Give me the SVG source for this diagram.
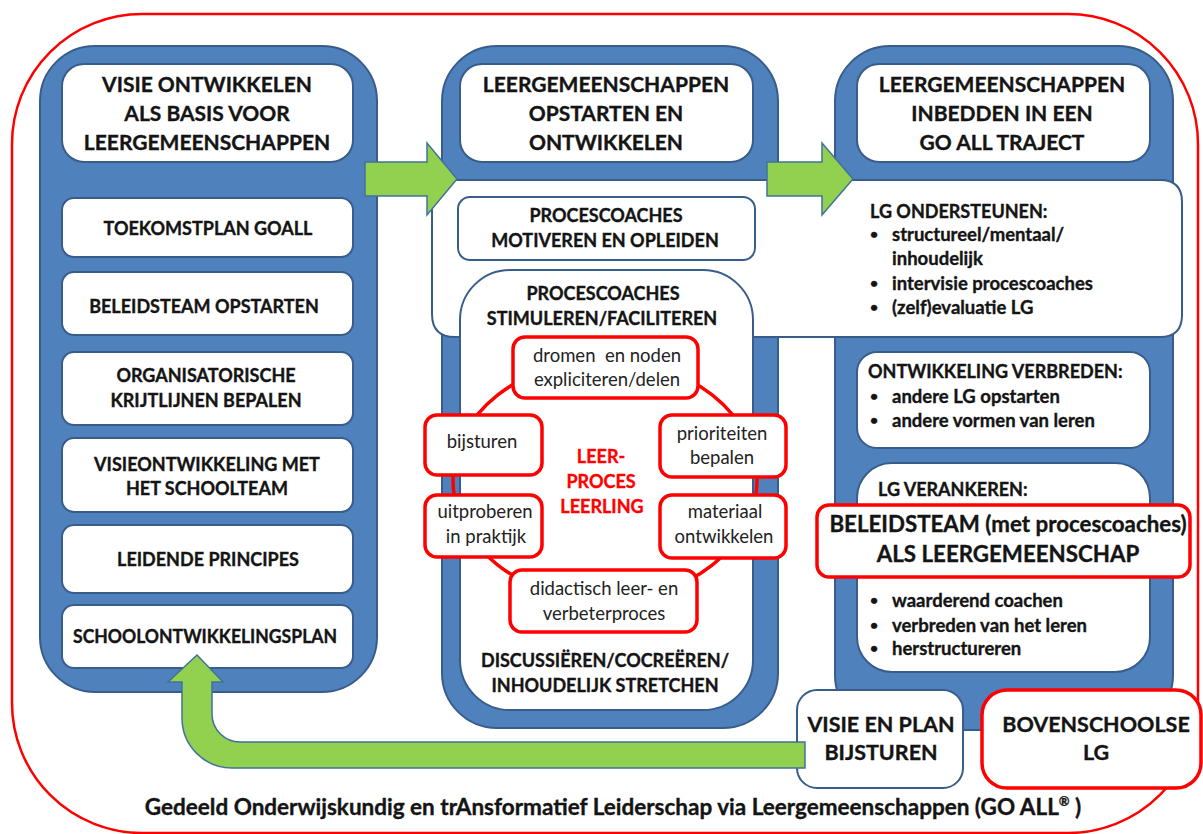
<svg xmlns="http://www.w3.org/2000/svg" width="1203" height="834" viewBox="0 0 1203 834">
<defs>
<style>
.blue{fill:#4f81bd;stroke:#385d8a;stroke-width:2}
.wbox{fill:#fff;stroke:#385d8a;stroke-width:2}
.rbox{fill:#fff;stroke:#ff0000;stroke-width:3.5}
.arrow{fill:#92d050;stroke:#41719c;stroke-width:1.5}
text{font-family:Lato,"Open Sans","Liberation Sans",sans-serif;fill:#141414}
.h,.i,.t,.big,.foot{font-weight:700;stroke:#141414;stroke-width:0.35}
.h{font-size:21px;text-anchor:middle}
.i{font-size:18px;text-anchor:middle}
.t{font-size:18px}
.b{font-size:18.5px}
.dot{font-size:14px}
.r{font-weight:400;font-size:18.5px;text-anchor:middle;fill:#222}
.red{font-weight:700;font-size:18px;text-anchor:middle;fill:#ff0000;stroke:#ff0000;stroke-width:0.35}
.big{font-size:21.5px;text-anchor:middle}
.big2{font-size:22.3px}
.foot{font-size:22.5px;text-anchor:middle}
</style>
</defs>
<rect width="1203" height="834" fill="#fff"/>
<g id="frame"><rect x="12" y="14" width="1186" height="819" rx="130" fill="none" stroke="#ff0000" stroke-width="2.5"/></g>

<g id="col-visie">
<rect class="blue" x="40" y="46" width="337" height="646" rx="55"/>
<rect class="wbox" x="62" y="64" width="291" height="98" rx="22"/>
<text class="h" x="207" y="92">VISIE ONTWIKKELEN</text>
<text class="h" x="207" y="121">ALS BASIS VOOR</text>
<text class="h" x="207" y="150">LEERGEMEENSCHAPPEN</text>
</g>
<g id="toekomstplan"><rect class="wbox" x="62" y="198" width="291" height="59" rx="12"/><text class="i" x="208" y="235">TOEKOMSTPLAN GOALL</text></g>
<g id="beleidsteam-opstarten"><rect class="wbox" x="62" y="272" width="291" height="63" rx="12"/><text class="i" x="204" y="313">BELEIDSTEAM OPSTARTEN</text></g>
<g id="krijtlijnen"><rect class="wbox" x="62" y="352" width="291" height="73" rx="12"/><text class="i" x="206" y="382">ORGANISATORISCHE</text><text class="i" x="206" y="407">KRIJTLIJNEN BEPALEN</text></g>
<g id="visieontwikkeling"><rect class="wbox" x="62" y="438" width="291" height="74" rx="12"/><text class="i" x="207" y="471">VISIEONTWIKKELING MET</text><text class="i" x="207" y="495">HET SCHOOLTEAM</text></g>
<g id="leidende-principes"><rect class="wbox" x="62" y="525" width="291" height="68" rx="12"/><text class="i" x="208" y="566">LEIDENDE PRINCIPES</text></g>
<g id="schoolontwikkelingsplan"><rect class="wbox" x="62" y="605" width="291" height="63" rx="12"/><text class="i" x="205" y="643" textLength="264" lengthAdjust="spacingAndGlyphs">SCHOOLONTWIKKELINGSPLAN</text></g>

<g id="col-opstarten">
<rect class="blue" x="442" y="46" width="336" height="682" rx="55"/>
<rect class="wbox" x="460" y="64" width="293" height="98" rx="22"/>
<text class="h" x="606" y="92">LEERGEMEENSCHAPPEN</text>
<text class="h" x="606" y="121">OPSTARTEN EN</text>
<text class="h" x="606" y="150">ONTWIKKELEN</text>
</g>

<g id="col-inbedden">
<rect class="blue" x="835" y="46" width="338" height="684" rx="55"/>
<rect class="wbox" x="857" y="64" width="293" height="98" rx="22"/>
<text class="h" x="1002" y="92">LEERGEMEENSCHAPPEN</text>
<text class="h" x="1002" y="121">INBEDDEN IN EEN</text>
<text class="h" x="1002" y="150">GO ALL TRAJECT</text>
</g>

<g id="lg-ondersteunen">
<path class="wbox" d="M432,180 H1160 Q1182,180 1182,202 V315 Q1182,337 1160,337 H455 Q432,337 432,314 Z"/>
<text class="t" x="870" y="218">LG ONDERSTEUNEN:</text>
<text class="t dot" x="870" y="239">•</text><text class="t b" x="892" y="241">structureel/mentaal/</text>
<text class="t b" x="892" y="265">inhoudelijk</text>
<text class="t dot" x="870" y="288">•</text><text class="t b" x="892" y="290">intervisie procescoaches</text>
<text class="t dot" x="870" y="312">•</text><text class="t b" x="892" y="314">(zelf)evaluatie LG</text>
</g>

<g id="motiveren"><rect class="wbox" x="458" y="197" width="297" height="63" rx="12"/><text class="i" x="606" y="222">PROCESCOACHES</text><text class="i" x="605" y="247">MOTIVEREN EN OPLEIDEN</text></g>

<g id="stimuleren">
<rect class="wbox" x="460" y="270" width="293" height="440" rx="50"/>
<text class="i" x="603" y="300">PROCESCOACHES</text>
<text class="i" x="602" y="325">STIMULEREN/FACILITEREN</text>
<text class="i" x="605" y="667">DISCUSSIËREN/COCREËREN/</text>
<text class="i" x="605" y="692">INHOUDELIJK STRETCHEN</text>
</g>

<g id="connectors">
<ellipse id="cycle-ring" cx="605" cy="480" rx="152" ry="120" fill="none" stroke="#ff0000" stroke-width="3.5"/>
</g>

<g id="leerproces"><text class="red" x="601" y="463">LEER-</text><text class="red" x="601" y="488">PROCES</text><text class="red" x="602" y="513">LEERLING</text></g>
<g id="dromen"><rect class="rbox" x="513" y="337" width="185" height="61" rx="12"/><text class="r" x="607" y="362">dromen&#160; en noden</text><text class="r" x="607" y="386">expliciteren/delen</text></g>
<g id="bijsturen"><rect class="rbox" x="425" y="415" width="117" height="60" rx="12"/><text class="r" x="482" y="448">bijsturen</text></g>
<g id="prioriteiten"><rect class="rbox" x="660" y="415" width="126" height="62" rx="12"/><text class="r" x="722" y="440">prioriteiten</text><text class="r" x="722" y="464">bepalen</text></g>
<g id="uitproberen"><rect class="rbox" x="425" y="495" width="117" height="62" rx="12"/><text class="r" x="485" y="518">uitproberen</text><text class="r" x="486" y="543">in praktijk</text></g>
<g id="materiaal"><rect class="rbox" x="660" y="495" width="126" height="63" rx="12"/><text class="r" x="725" y="518">materiaal</text><text class="r" x="724" y="543">ontwikkelen</text></g>
<g id="didactisch"><rect class="rbox" x="510" y="570" width="187" height="62" rx="12"/><text class="r" x="604" y="595">didactisch leer- en</text><text class="r" x="604" y="620">verbeterproces</text></g>

<g id="ontwikkeling-verbreden">
<rect class="wbox" x="857" y="352" width="293" height="96" rx="20"/>
<text class="t" x="868" y="378">ONTWIKKELING VERBREDEN:</text>
<text class="t dot" x="870" y="401">•</text><text class="t b" x="892" y="403">andere LG opstarten</text>
<text class="t dot" x="870" y="425">•</text><text class="t b" x="892" y="427">andere vormen van leren</text>
</g>

<g id="lg-verankeren">
<rect class="wbox" x="857" y="463" width="293" height="209" rx="35"/>
<text class="t" x="878" y="496">LG VERANKEREN:</text>
<text class="t dot" x="870" y="605">•</text><text class="t b" x="892" y="607">waarderend coachen</text>
<text class="t dot" x="870" y="630">•</text><text class="t b" x="892" y="632">verbreden van het leren</text>
<text class="t dot" x="870" y="653">•</text><text class="t b" x="892" y="655">herstructureren</text>
</g>
<g id="beleidsteam-lg"><rect class="rbox" x="817" y="505" width="373" height="72" rx="12"/><text class="big big2" x="1008" y="532">BELEIDSTEAM (met procescoaches)</text><text class="big big2" x="1008" y="562">ALS LEERGEMEENSCHAP</text></g>

<g id="visie-bijsturen"><rect class="wbox" x="797" y="690" width="166" height="98" rx="20"/><text class="big" x="881" y="732">VISIE EN PLAN</text><text class="big" x="881" y="760">BIJSTUREN</text></g>
<g id="bovenschoolse"><rect class="rbox" x="982" y="690" width="219" height="98" rx="25"/><text class="big" x="1096" y="732">BOVENSCHOOLSE</text><text class="big" x="1096" y="760">LG</text></g>

<g id="arrows">
<path class="arrow" d="M365,162 H427 V143 L457,179 L427,215 V196 H365 Z"/>
<path class="arrow" d="M767,162 H822 V143 L853,179 L822,215 V196 H767 Z"/>
<path class="arrow" d="M805,742 H240 A28,28 0 0 1 212,714 V682 H223 L197,655 L168,682 H182 V718 A50,50 0 0 0 232,768 H805 Z"/>
</g>

<g id="footer"><text class="foot" x="613" y="815">Gedeeld Onderwijskundig en trAnsformatief Leiderschap via Leergemeenschappen (GO ALL<tspan font-size="13" dy="-9">®</tspan><tspan dy="9"> )</tspan></text></g>
</svg>
